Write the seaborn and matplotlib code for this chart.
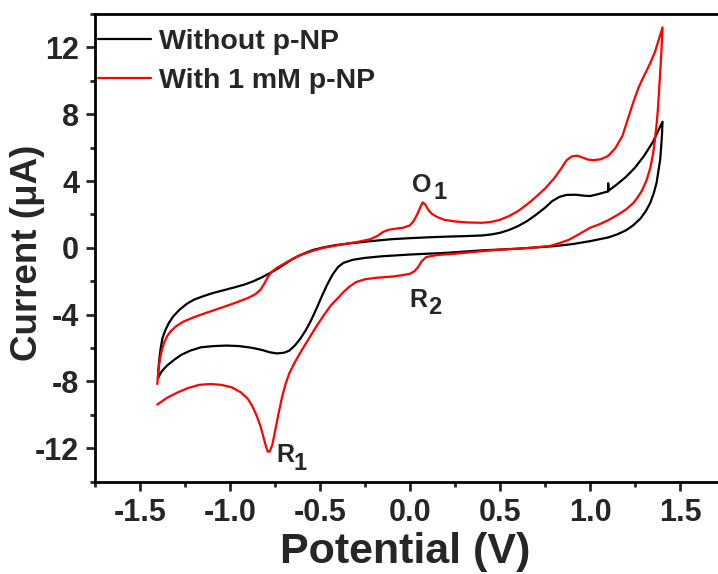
import matplotlib
matplotlib.use("Agg")
import matplotlib.pyplot as plt
import seaborn as sns
import pandas as pd
from matplotlib.ticker import MultipleLocator, FormatStrFormatter

# ---- data ----
# Without p-NP : forward (anodic) branch then reverse (cathodic) branch
without_E = [-1.400, -1.398, -1.392, -1.385, -1.375, -1.360, -1.340, -1.315, -1.280, -1.240,
             -1.200, -1.150, -1.100, -1.040, -0.980, -0.920, -0.870, -0.820, -0.780, -0.740,
             -0.700, -0.660, -0.620, -0.580, -0.540, -0.480, -0.420, -0.350, -0.280, -0.200,
             -0.100, 0.000, 0.100, 0.200, 0.300, 0.400, 0.450, 0.500, 0.550, 0.600,
             0.650, 0.700, 0.750, 0.790, 0.830, 0.870, 0.920, 0.970, 1.000, 1.040,
             1.080, 1.100, 1.101, 1.103, 1.150, 1.200, 1.250, 1.300, 1.350, 1.403,
             1.400, 1.395, 1.390, 1.380, 1.370, 1.355, 1.335, 1.310, 1.280, 1.240,
             1.200, 1.150, 1.100, 1.000, 0.900, 0.800, 0.600, 0.400, 0.200, 0.000,
             -0.150, -0.250, -0.320, -0.370, -0.400, -0.430, -0.460, -0.490, -0.520, -0.550,
             -0.580, -0.610, -0.640, -0.670, -0.700, -0.740, -0.780, -0.820, -0.880, -0.950,
             -1.020, -1.090, -1.160, -1.220, -1.270, -1.310, -1.350, -1.380, -1.400]
without_I = [-7.80, -7.30, -6.60, -6.00, -5.40, -4.95, -4.50, -4.10, -3.70, -3.35,
             -3.10, -2.90, -2.72, -2.55, -2.38, -2.20, -2.00, -1.75, -1.52, -1.28,
             -1.00, -0.72, -0.48, -0.30, -0.13, 0.03, 0.15, 0.25, 0.33, 0.42,
             0.52, 0.58, 0.63, 0.67, 0.70, 0.74, 0.80, 0.90, 1.07, 1.30,
             1.60, 1.98, 2.40, 2.80, 3.05, 3.17, 3.18, 3.12, 3.10, 3.20,
             3.32, 3.37, 3.87, 3.42, 3.80, 4.25, 4.80, 5.50, 6.35, 7.55,
             6.80, 6.00, 5.30, 4.60, 3.90, 3.30, 2.70, 2.20, 1.75, 1.35,
             1.05, 0.80, 0.62, 0.40, 0.22, 0.10, -0.05, -0.15, -0.30, -0.40,
             -0.50, -0.60, -0.72, -0.90, -1.15, -1.60, -2.20, -2.90, -3.65, -4.35,
             -4.95, -5.45, -5.85, -6.15, -6.28, -6.32, -6.25, -6.12, -5.98, -5.88,
             -5.85, -5.88, -5.95, -6.15, -6.40, -6.70, -7.05, -7.40, -7.80]

# With 1 mM p-NP : forward branch (O1) then reverse branch (R2, R1)
with_E = [-1.404, -1.400, -1.395, -1.388, -1.378, -1.365, -1.350, -1.330, -1.300, -1.260,
          -1.200, -1.140, -1.080, -1.020, -0.960, -0.900, -0.860, -0.830, -0.810, -0.790,
          -0.770, -0.740, -0.700, -0.650, -0.600, -0.540, -0.480, -0.420, -0.350, -0.280,
          -0.220, -0.180, -0.150, -0.120, -0.080, -0.040, 0.000, 0.020, 0.040, 0.058,
          0.070, 0.085, 0.100, 0.120, 0.150, 0.190, 0.250, 0.320, 0.400, 0.450,
          0.500, 0.550, 0.600, 0.650, 0.700, 0.750, 0.800, 0.840, 0.870, 0.900,
          0.930, 0.960, 0.990, 1.020, 1.060, 1.100, 1.140, 1.180, 1.210, 1.240,
          1.270, 1.300, 1.330, 1.360, 1.380, 1.403,
          1.400, 1.396, 1.390, 1.384, 1.378, 1.370, 1.360, 1.350, 1.335, 1.315,
          1.290, 1.260, 1.240, 1.200, 1.150, 1.100, 1.050, 1.000, 0.960, 0.920,
          0.880, 0.830, 0.780, 0.700, 0.600, 0.463, 0.350, 0.250, 0.150, 0.090,
          0.065, 0.045, 0.025, 0.000, -0.050, -0.100, -0.185, -0.250, -0.300, -0.340,
          -0.370, -0.400, -0.440, -0.480, -0.520, -0.560, -0.600, -0.640, -0.670, -0.690,
          -0.710, -0.730, -0.750, -0.765, -0.780, -0.790, -0.800, -0.815, -0.830, -0.850,
          -0.875, -0.900, -0.940, -0.990, -1.050, -1.110, -1.170, -1.230, -1.290, -1.350,
          -1.404]
with_I = [-8.15, -7.60, -7.10, -6.60, -6.10, -5.65, -5.30, -5.00, -4.70, -4.42,
          -4.15, -3.92, -3.70, -3.48, -3.25, -3.00, -2.78, -2.50, -2.15, -1.75,
          -1.45, -1.20, -0.95, -0.65, -0.40, -0.18, 0.00, 0.12, 0.25, 0.38,
          0.52, 0.72, 0.95, 1.08, 1.15, 1.20, 1.35, 1.60, 2.00, 2.45,
          2.72, 2.60, 2.30, 2.05, 1.85, 1.68, 1.58, 1.52, 1.50, 1.55,
          1.68, 1.90, 2.20, 2.60, 3.05, 3.55, 4.15, 4.75, 5.25, 5.48,
          5.52, 5.40, 5.28, 5.25, 5.30, 5.50, 5.95, 6.70, 7.70, 8.70,
          9.60, 10.30, 10.95, 11.70, 12.40, 13.20,
          12.50, 11.60, 10.50, 9.40, 8.40, 7.40, 6.40, 5.60, 4.80, 4.07,
          3.45, 2.95, 2.68, 2.30, 1.95, 1.65, 1.40, 1.20, 0.95, 0.70,
          0.47, 0.28, 0.12, 0.03, -0.05, -0.14, -0.25, -0.35, -0.43, -0.55,
          -0.80, -1.15, -1.40, -1.55, -1.65, -1.72, -1.79, -1.88, -2.05, -2.35,
          -2.65, -3.00, -3.45, -4.05, -4.70, -5.40, -6.10, -6.85, -7.50, -8.10,
          -8.90, -9.90, -11.00, -11.80, -12.20, -12.20, -11.90, -11.30, -10.70, -10.10,
          -9.50, -9.05, -8.65, -8.35, -8.20, -8.15, -8.20, -8.38, -8.65, -8.98,
          -9.38]

series_labels = ["Without p-NP", "With 1 mM p-NP"]
series_colors = ["#000000", "#ff0000"]
x_ticks = [-1.5, -1.0, -0.5, 0.0, 0.5, 1.0, 1.5]
y_ticks = [-12, -8, -4, 0, 4, 8, 12]

# ---- style ----
sns.set_style("ticks")
plt.rcParams["font.family"] = ["Liberation Sans", "DejaVu Sans"]
plt.rcParams["font.weight"] = "bold"
plt.rcParams["axes.unicode_minus"] = False

fig = plt.figure(figsize=(7.18, 5.74), dpi=100)
W, H = 718, 574
ax = fig.add_axes([95 / W, 1 - 481.7 / H, 630 / W, 467.7 / H])

df_a = pd.DataFrame({"E": without_E, "I": without_I})
df_b = pd.DataFrame({"E": with_E, "I": with_I})
sns.lineplot(data=df_a, x="E", y="I", sort=False, estimator=None, ax=ax,
             color=series_colors[0], lw=1.6, label=series_labels[0])
sns.lineplot(data=df_b, x="E", y="I", sort=False, estimator=None, ax=ax,
             color=series_colors[1], lw=1.6, label=series_labels[1])

ax.set_xlim(-1.75, 1.75)
ax.set_ylim(-14, 14)
ax.set_xticks(x_ticks)
ax.set_yticks(y_ticks)
ax.xaxis.set_minor_locator(MultipleLocator(0.25))
ax.yaxis.set_minor_locator(MultipleLocator(2))
ax.xaxis.set_major_formatter(FormatStrFormatter("%.1f"))

for s in ["top", "left", "bottom", "right"]:
    ax.spines[s].set_linewidth(2.0)
    ax.spines[s].set_color("black")
ax.tick_params(which="major", direction="out", length=6.5, width=2, labelsize=22, pad=5)
ax.tick_params(which="minor", direction="out", length=3.5, width=2)
for lab in ax.get_xticklabels() + ax.get_yticklabels():
    lab.set_fontweight("bold")

ax.set_xlabel("Potential (V)", fontsize=31, fontweight="bold")
ax.xaxis.set_label_coords((405 - 95) / 630, -0.108)
ax.set_ylabel("Current (\u03bcA)", fontsize=26.5, fontweight="bold")
ax.yaxis.set_label_coords(-0.08, 0.49)

leg = ax.legend(loc="upper left", bbox_to_anchor=(0.005, 0.967), frameon=False,
                prop={"weight": "bold", "size": 20.5}, handlelength=1.85,
                handletextpad=0.3, labelspacing=0.43, borderpad=0, borderaxespad=0)

# peak annotations
ann = dict(fontsize=18, fontweight="bold", ha="left", va="baseline")
sub = dict(fontsize=17, fontweight="bold", ha="left", va="baseline")
ax.text(0.009, 3.37, "O", **ann)
ax.text(0.133, 2.92, "1", **sub)
ax.text(-0.004, -3.52, "R", **ann)
ax.text(0.102, -3.97, "2", **sub)
ax.text(-0.741, -12.81, "R", **ann)
ax.text(-0.648, -13.31, "1", **sub)

fig.savefig("out.png", dpi=100)
